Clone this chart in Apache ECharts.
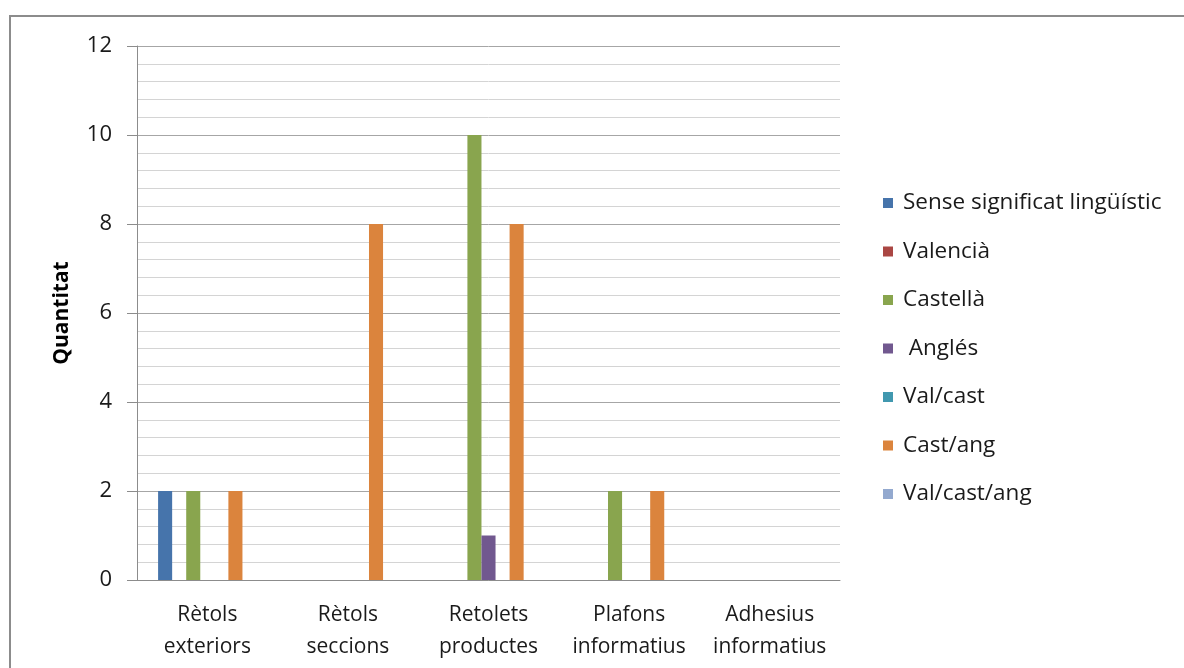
<!DOCTYPE html>
<html>
<head>
<meta charset="utf-8">
<script src="https://cdn.jsdelivr.net/npm/echarts@6/dist/echarts.min.js"></script>
<style>
  html, body { margin: 0; padding: 0; background: #fff; overflow: hidden; }
  #frame { position: absolute; left: 9px; top: 15px; width: 1200px; height: 700px; border: 2px solid #8c8c8c; box-sizing: border-box; }
  #chart { position: absolute; left: 0; top: 0; width: 1184px; height: 668px; }
</style>
</head>
<body>
<div id="frame"></div>
<div id="chart"></div>
<script>
const categories = ['Rètols\nexteriors', 'Rètols\nseccions', 'Retolets\nproductes', 'Plafons\ninformatius', 'Adhesius\ninformatius']
const seriesNames = ['Sense significat lingüístic', 'Valencià', 'Castellà', ' Anglés', 'Val/cast', 'Cast/ang', 'Val/cast/ang']
const seriesColors = ['#4674AB', '#AA4643', '#89A54E', '#71588F', '#4198AF', '#DB843D', '#93A9CF']
const senseValues = [2, 0, 0, 0, 0]
const valenciaValues = [0, 0, 0, 0, 0]
const castellaValues = [2, 0, 10, 2, 0]
const anglesValues = [0, 0, 1, 0, 0]
const valCastValues = [0, 0, 0, 0, 0]
const castAngValues = [2, 8, 8, 2, 0]
const valCastAngValues = [0, 0, 0, 0, 0]
const yTicks = [0, 2, 4, 6, 8, 10, 12]

const allValues = [senseValues, valenciaValues, castellaValues, anglesValues, valCastValues, castAngValues, valCastAngValues]
const font = '"Open Sans", "Noto Sans", sans-serif'

const chart = echarts.init(document.getElementById('chart'))
chart.setOption({
  animation: false,
  textStyle: { fontFamily: font },
  grid: { left: 137, right: 344, top: 46, bottom: 88 },
  legend: {
    orient: 'vertical', left: 883, top: 191, padding: 0,
    itemWidth: 10, itemHeight: 10, itemGap: 24.5,
    icon: 'rect',
    textStyle: { fontSize: 22.5, lineHeight: 24, color: '#1a1a1a', fontFamily: font, padding: [0, 0, 0, 5] },
    data: seriesNames,
  },
  xAxis: {
    type: 'category', data: categories,
    axisLine: { lineStyle: { color: '#8c8c8c' } },
    axisTick: { show: false },
    axisLabel: { color: '#1a1a1a', fontSize: 21, lineHeight: 32, margin: 19, interval: 0 },
  },
  yAxis: {
    type: 'value', min: 0, max: 12, interval: 2,
    name: 'Quantitat', nameLocation: 'middle', nameGap: 64, nameRotate: 90,
    nameTextStyle: { fontSize: 21, fontWeight: 'bold', color: '#000' },
    axisLine: { show: true, lineStyle: { color: '#8c8c8c' } },
    axisTick: { show: true, length: 10, lineStyle: { color: '#8c8c8c' } },
    axisLabel: { color: '#1a1a1a', fontSize: 22, margin: 25,
      formatter: v => (yTicks.includes(v) ? String(v) : '') },
    splitLine: { lineStyle: { color: '#a6a6a6' } },
    minorTick: { show: false, splitNumber: 5 },
    minorSplitLine: { show: true, lineStyle: { color: '#d4d4d4' } },
  },
  series: seriesNames.map((name, i) => ({
    name, type: 'bar', data: allValues[i],
    barGap: '0%', barCategoryGap: '30%',
    itemStyle: { color: seriesColors[i] },
  })),
})
</script>
</body>
</html>
